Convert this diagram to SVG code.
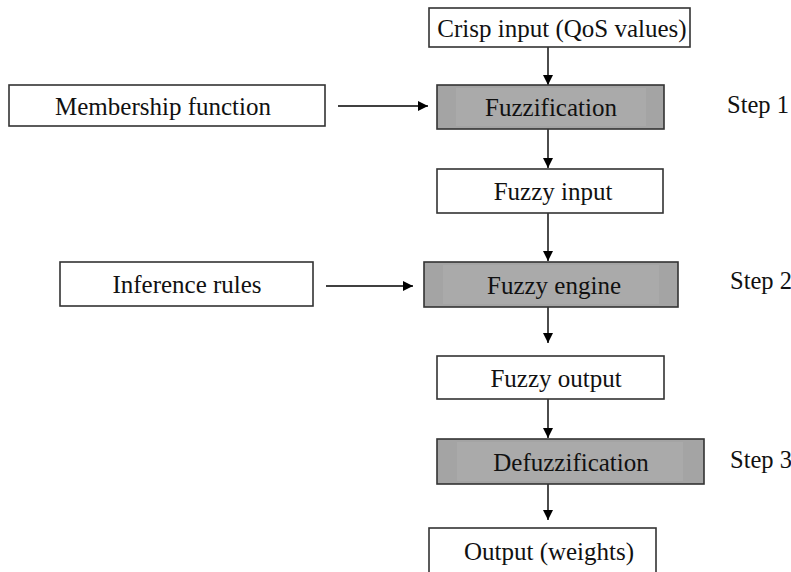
<svg xmlns="http://www.w3.org/2000/svg" width="791" height="572" viewBox="0 0 791 572">
<style>
.box{fill:#fff;stroke:#333;stroke-width:1.6}
.gray{fill:#a4a4a4;stroke:#333;stroke-width:1.6}
.inner{fill:#aaaaaa}
.t{font-family:"Liberation Serif","Times New Roman",serif;font-size:25px;fill:#111;text-anchor:middle;dominant-baseline:central}
.s{font-family:"Liberation Serif","Times New Roman",serif;font-size:24.5px;fill:#111}
.c{stroke:#000;stroke-width:1.4;fill:none;marker-end:url(#ah)}
</style>
<defs>
<marker id="ah" viewBox="0 0 10 10" refX="10" refY="5" markerWidth="10" markerHeight="10" markerUnits="userSpaceOnUse" orient="auto">
<path d="M0,0 L10,5 L0,10 Z" fill="#000"/>
</marker>
</defs>
<g id="connectors">
<line class="c" x1="548" y1="47" x2="548" y2="85"/>
<line class="c" x1="338" y1="106" x2="428" y2="106"/>
<line class="c" x1="548" y1="129" x2="548" y2="168"/>
<line class="c" x1="548" y1="213" x2="548" y2="261"/>
<line class="c" x1="326" y1="286" x2="413" y2="286"/>
<line class="c" x1="548" y1="307" x2="548" y2="343"/>
<line class="c" x1="548" y1="399" x2="548" y2="438"/>
<line class="c" x1="548" y1="484" x2="548" y2="520"/>
</g>
<g id="crisp"><rect class="box" x="429" y="8" width="261" height="39"/><text class="t" x="562" y="28">Crisp input (QoS values)</text></g>
<g id="membership"><rect class="box" x="9" y="85" width="316" height="41"/><text class="t" x="163" y="106">Membership function</text></g>
<g id="fuzzification"><rect class="gray" x="437" y="85" width="227" height="44"/><rect class="inner" x="456" y="88" width="190" height="38"/><text class="t" x="551" y="107">Fuzzification</text></g>
<g id="step1"><text class="s" x="727" y="113">Step 1</text></g>
<g id="fuzzyinput"><rect class="box" x="437" y="169" width="226" height="44"/><text class="t" x="553" y="191">Fuzzy input</text></g>
<g id="inference"><rect class="box" x="60" y="262" width="253" height="44"/><text class="t" x="187" y="284">Inference rules</text></g>
<g id="engine"><rect class="gray" x="424" y="262" width="254" height="45"/><rect class="inner" x="443" y="265" width="216" height="39"/><text class="t" x="554" y="285">Fuzzy engine</text></g>
<g id="step2"><text class="s" x="730" y="289">Step 2</text></g>
<g id="fuzzyoutput"><rect class="box" x="437" y="356" width="227" height="43"/><text class="t" x="556" y="378">Fuzzy output</text></g>
<g id="defuzz"><rect class="gray" x="437" y="439" width="267" height="45"/><rect class="inner" x="457" y="442" width="226" height="39"/><text class="t" x="571" y="462">Defuzzification</text></g>
<g id="step3"><text class="s" x="730" y="468">Step 3</text></g>
<g id="output"><rect class="box" x="429" y="528" width="227" height="50"/><text class="t" x="549" y="551">Output (weights)</text></g>
</svg>
